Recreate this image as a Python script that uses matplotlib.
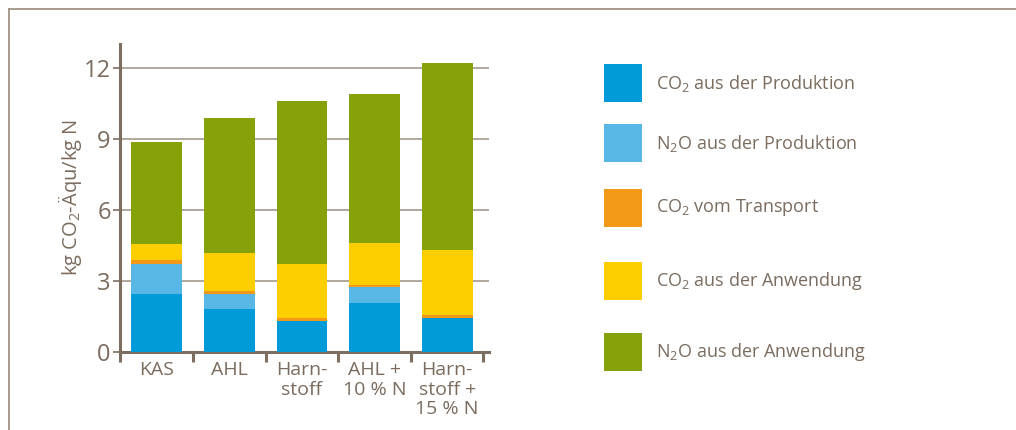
import matplotlib
matplotlib.use("Agg")
import matplotlib.pyplot as plt
from matplotlib.patches import Rectangle
from matplotlib.lines import Line2D
import numpy as np

# Düngemittel und Emissionsquellen (kg CO2-Äqu/kg N)
categories = ["KAS", "AHL", "Harn-\nstoff", "AHL +\n10 % N", "Harn-\nstoff +\n15 % N"]
co2_produktion = [2.44, 1.81, 1.30, 2.06, 1.44]
n2o_produktion = [1.28, 0.64, 0.00, 0.68, 0.00]
co2_transport = [0.16, 0.13, 0.14, 0.08, 0.11]
co2_anwendung = [0.68, 1.60, 2.28, 1.78, 2.75]
n2o_anwendung = [4.31, 5.71, 6.88, 6.30, 7.91]

series_labels = [
    "CO$_2$ aus der Produktion",
    "N$_2$O aus der Produktion",
    "CO$_2$ vom Transport",
    "CO$_2$ aus der Anwendung",
    "N$_2$O aus der Anwendung",
]
series_colors = ["#009bd8", "#58b7e5", "#f29a17", "#fecf00", "#86a20b"]
y_ticks = [0, 3, 6, 9, 12]

TEXT = "#7b6c5e"
AXIS = "#7d6f60"
GRID = "#a4988b"
FRAME = "#a09382"
FONT = "Open Sans"

plt.rcParams["font.family"] = [FONT, "DejaVu Sans"]
plt.rcParams["mathtext.fontset"] = "custom"
plt.rcParams["mathtext.rm"] = FONT
plt.rcParams["mathtext.it"] = FONT
plt.rcParams["mathtext.bf"] = FONT

fig = plt.figure(figsize=(10.16, 4.30), dpi=100)
ax = fig.add_axes([0.1186, 0.182, 0.3627, 0.716])

series = [co2_produktion, n2o_produktion, co2_transport, co2_anwendung, n2o_anwendung]
x = np.arange(len(categories))
bottom = np.zeros(len(categories))
for vals, col in zip(series, series_colors):
    vals = np.array(vals)
    ax.bar(x, vals, width=0.70, bottom=bottom, color=col, linewidth=0, zorder=3)
    bottom += vals

ax.set_xlim(-0.5, 4.576)
ax.set_ylim(0, 13)
ax.set_yticks(y_ticks)
ax.set_yticklabels([str(t) for t in y_ticks])
ax.yaxis.grid(True, color=GRID, linewidth=1.2, zorder=1)
ax.set_axisbelow(True)

# category separators as ticks, labels centred under each bar
ax.set_xticks(np.arange(-0.5, len(categories), 1.0))
ax.set_xticklabels([])
ax.set_xticks(x, minor=True)
ax.set_xticklabels(categories, minor=True, linespacing=1.08)
ax.tick_params(axis="x", which="major", direction="out", length=7, width=2.2, color=AXIS)
ax.tick_params(axis="x", which="minor", length=0, pad=7, labelsize=14, labelcolor=TEXT)
ax.tick_params(axis="y", direction="out", length=5, width=1.2, color=AXIS,
               labelsize=17, labelcolor=TEXT, pad=2)

for side in ("top", "right"):
    ax.spines[side].set_visible(False)
for side in ("left", "bottom"):
    ax.spines[side].set_color(AXIS)
    ax.spines[side].set_linewidth(2.2)

ax.set_ylabel("kg CO$_2$-Äqu/kg N", color=TEXT, fontsize=14.5)
ax.yaxis.set_label_coords(-0.100, 0.5)

# legend drawn as swatches with labels
legend_y = [83, 143, 208, 281, 352]
W, H = 1016, 430
for lbl, col, yc in zip(series_labels, series_colors, legend_y):
    fig.patches.append(Rectangle((604 / W, (H - yc - 19) / H), 38 / W, 38 / H,
                                 transform=fig.transFigure, color=col, linewidth=0))
    fig.text(656 / W, 1 - yc / H, lbl, color=TEXT, fontsize=13, va="center", ha="left")

# frame along top and left edge
fig.add_artist(Line2D([8.5 / W, 1], [1 - 8.5 / H, 1 - 8.5 / H], color=FRAME, linewidth=1.3,
                      transform=fig.transFigure))
fig.add_artist(Line2D([8.5 / W, 8.5 / W], [0, 1 - 8.5 / H], color=FRAME, linewidth=1.3,
                      transform=fig.transFigure))

fig.savefig("out.png", dpi=100)
